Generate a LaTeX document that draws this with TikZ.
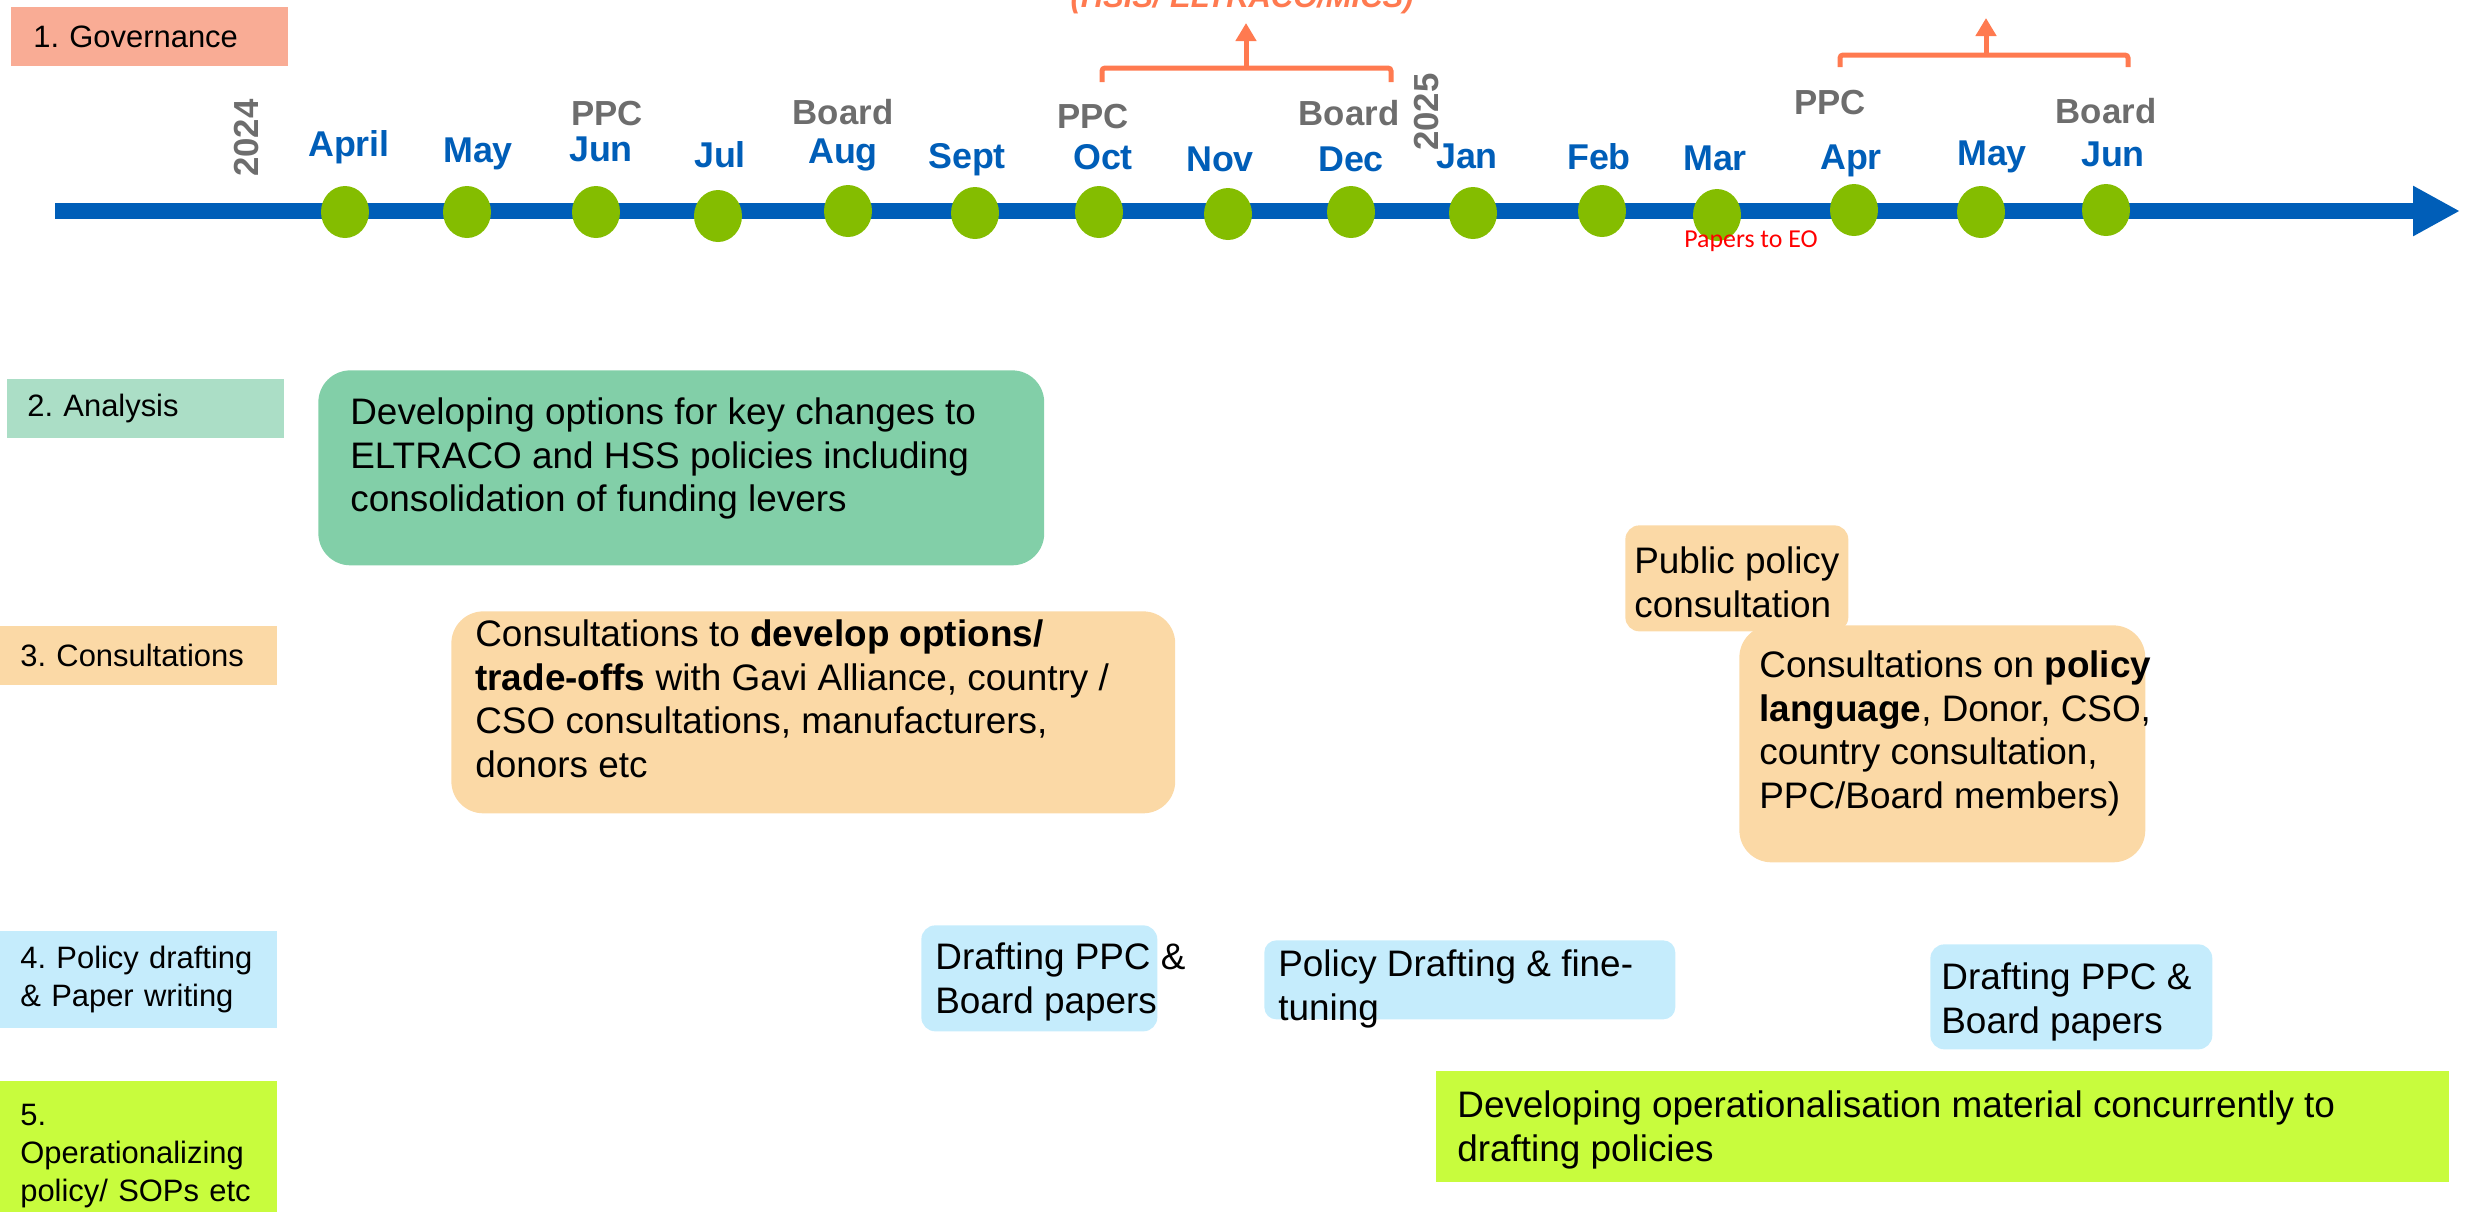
\documentclass[tikz,border=0pt]{standalone}
\usepackage{fontspec}
\setmainfont{Liberation Sans}
\newfontfamily\calfont{Carlito}
\usetikzlibrary{arrows.meta,shapes.geometric}
\frenchspacing

\definecolor{axisblue}{HTML}{005EB8}
\definecolor{dotgreen}{HTML}{84BD00}
\definecolor{govred}{HTML}{F9AC95}
\definecolor{analight}{HTML}{ABDEC6}
\definecolor{anabox}{HTML}{82CFA8}
\definecolor{conorange}{HTML}{FBD9A6}
\definecolor{draftblue}{HTML}{C5ECFC}
\definecolor{opslime}{HTML}{C8FC3D}
\definecolor{brkorange}{HTML}{FF7A50}
\definecolor{meetgray}{HTML}{6D6D6D}

\tikzset{
	lbl/.style={anchor=north west,inner ysep=0pt,inner xsep=0.4cm,text width=4.74cm,align=left,minimum height=1.18cm,execute at begin node={\hyphenpenalty=10000},font=\fontsize{17.6}{21.5}\selectfont},
	box/.style={anchor=north west,inner sep=0pt,rounded corners=0.64cm},
	txt/.style={anchor=north west,inner sep=0pt,align=left,font=\fontsize{21}{25}\selectfont},
	mon/.style={anchor=base,inner sep=0pt,text=axisblue,font=\bfseries\fontsize{20.4}{24}\selectfont},
	meet/.style={anchor=base,inner sep=0pt,text=meetgray,font=\bfseries\fontsize{19.8}{24}\selectfont},
	dot/.style={ellipse,fill=dotgreen,inner sep=0pt,minimum width=0.96cm,minimum height=1.04cm},
	brk/.style={draw=brkorange,line width=0.1cm,rounded corners=0.06cm},
}

\begin{document}
\begin{tikzpicture}[x=0.02cm,y=-0.02cm]
		\useasboundingbox (0,0) rectangle (2481,1211);
		% row labels
		\node[lbl,fill=govred,inner xsep=0.44cm,text width=4.66cm] (gov) at (11,7) {1. Governance};
		\node[lbl,fill=analight] (lana) at (7,379) {2. Analysis};
		\node[lbl,fill=conorange] (lcon) at (0,626) {3. Consultations};
		\node[lbl,fill=draftblue,minimum height=1.94cm] (ldraft) at (0,931) {4. Policy drafting\\\& Paper writing};
		\node[lbl,fill=opslime,minimum height=2.98cm] (lops) at (0,1081) {5.\\Operationalizing\\policy/ SOPs etc};
		%
		% timeline
		\coordinate (ax0) at (55,211);
		\coordinate (ax1) at (2460,211);
		\draw[axisblue,line width=0.32cm,-{Triangle[length=0.94cm,width=0.94cm]}] (ax0) -- (ax1);
		\node[dot] (d1) at (345,212) {};
		\node[dot] (d2) at (467,212) {};
		\node[dot] (d3) at (596,212) {};
		\node[dot] (d4) at (718,216) {};
		\node[dot] (d5) at (848,211) {};
		\node[dot] (d6) at (975,213) {};
		\node[dot] (d7) at (1099,212) {};
		\node[dot] (d8) at (1228,214) {};
		\node[dot] (d9) at (1351,212) {};
		\node[dot] (d10) at (1473,213) {};
		\node[dot] (d11) at (1602,211) {};
		\node[dot] (d12) at (1717,215) {};
		\node[dot] (d13) at (1854,210) {};
		\node[dot] (d14) at (1981,212) {};
		\node[dot] (d15) at (2106,210) {};
		%
		\node[mon] (m1) at (349,156) {April};
		\node[mon] (m2) at (478,162) {May};
		\node[mon] (m3) at (601,161) {Jun};
		\node[mon] (m4) at (720,167) {Jul};
		\node[mon] (m5) at (843,163) {Aug};
		\node[mon] (m6) at (967,168) {Sept};
		\node[mon] (m7) at (1103,169) {Oct};
		\node[mon] (m8) at (1220,171) {Nov};
		\node[mon] (m9) at (1351,171) {Dec};
		\node[mon] (m10) at (1467,168) {Jan};
		\node[mon] (m11) at (1599,169) {Feb};
		\node[mon] (m12) at (1715,170) {Mar};
		\node[mon] (m13) at (1851,169) {Apr};
		\node[mon] (m14) at (1992,165) {May};
		\node[mon] (m15) at (2113,166) {Jun};
		%
		\node[meet] (ppc1) at (607,125) {PPC};
		\node[meet] (board1) at (843,124) {Board};
		\node[meet] (ppc2) at (1093,128) {PPC};
		\node[meet] (board2) at (1349,125) {Board};
		\node[meet] (ppc3) at (1830,114) {PPC};
		\node[meet] (board3) at (2106,123) {Board};
		\node[meet,anchor=center,rotate=90] (y24) at (247,138) {2024};
		\node[meet,anchor=center,rotate=90] (y25) at (1427,112) {2025};
		\node[anchor=base,inner sep=0pt,text=red,font=\calfont\fontsize{14.7}{18}\selectfont] (eo) at (1751,247) {Papers to EO};
		%
		% governance brackets
		\coordinate (b1l) at (1102,82);
		\coordinate (b1m) at (1246,68);
		\coordinate (b1r) at (1391,82);
		\coordinate (b1t) at (1246,23);
		\coordinate (b2l) at (1840,67);
		\coordinate (b2m) at (1986,55);
		\coordinate (b2r) at (2128,67);
		\coordinate (b2t) at (1986,18);
		\draw[brk] (b1l) |- (b1m) -| (b1r);
		\draw[brk] (b2l) |- (b2m) -| (b2r);
		\draw[brk,-{Triangle[length=0.36cm,width=0.4cm]}] (b1m) -- (b1t);
		\draw[brk,-{Triangle[length=0.36cm,width=0.4cm]}] (b2m) -- (b2t);
		\node[anchor=base,inner sep=0pt,text=brkorange,font=\bfseries\itshape\fontsize{17.6}{21}\selectfont] (gov1) at (1242,7) {(HSIS/ ELTRACO/MICS)};
		%
		% activity boxes
		\node[box,fill=anabox,minimum width=14.52cm,minimum height=3.90cm] (ana) at (318,370) {};
		\node[txt] (ana-t) at (350,397) {Developing options for key changes to\\ELTRACO and HSS policies including\\consolidation of funding levers};
		\node[box,fill=conorange,minimum width=14.48cm,minimum height=4.04cm] (con) at (451,611) {};
		\node[txt] (con-t) at (475,619) {Consultations to \textbf{develop options/}\\\textbf{trade-offs} with Gavi Alliance, country /\\CSO consultations, manufacturers,\\donors etc};
		\node[box,fill=conorange,rounded corners=0.28cm,minimum width=4.46cm,minimum height=2.12cm] (pub) at (1625,525) {};
		\node[txt] (pub-t) at (1634,546) {Public policy\\consultation};
		\node[box,fill=conorange,minimum width=8.12cm,minimum height=4.74cm] (lang) at (1739,625) {};
		\node[txt] (lang-t) at (1759,650) {Consultations on \textbf{policy}\\\textbf{language}, Donor, CSO,\\country consultation,\\PPC/Board members)};
		\node[box,fill=draftblue,rounded corners=0.28cm,minimum width=4.72cm,minimum height=2.12cm] (dr1) at (921,925) {};
		\node[txt] (dr1-t) at (935,942) {Drafting PPC \&\\Board papers};
		\node[box,fill=draftblue,rounded corners=0.24cm,minimum width=8.22cm,minimum height=1.58cm] (pol) at (1264,940) {};
		\node[txt] (pol-t) at (1278,949) {Policy Drafting \& fine-\\tuning};
		\node[box,fill=draftblue,rounded corners=0.28cm,minimum width=5.64cm,minimum height=2.10cm] (dr2) at (1930,944) {};
		\node[txt] (dr2-t) at (1941,962) {Drafting PPC \&\\Board papers};
		\node[box,fill=opslime,sharp corners,minimum width=20.26cm,minimum height=2.22cm] (ops) at (1436,1071) {};
		\node[txt] (ops-t) at (1457,1090) {Developing operationalisation material concurrently to\\drafting policies};
	\end{tikzpicture}
\end{document}
